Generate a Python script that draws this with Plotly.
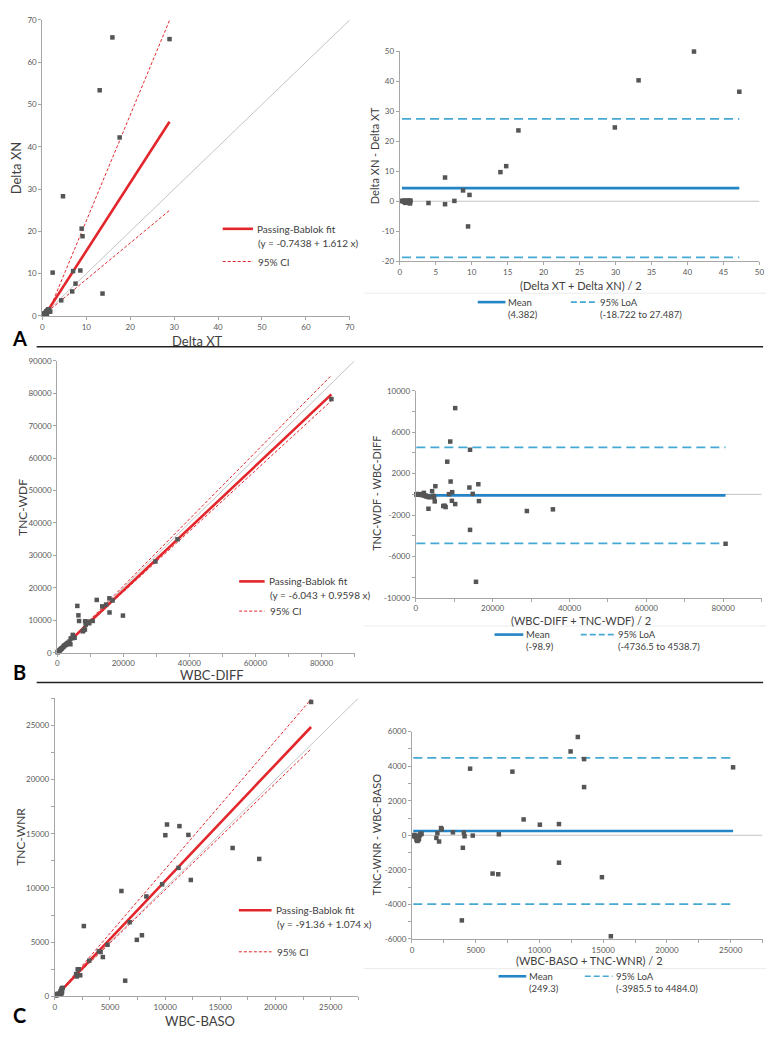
import plotly.graph_objects as go

W, H = 782, 1039
FONT = "Lato"
TXT = "#404040"
TICK = "#595959"
AX = "#a6a6a6"
RED = "#e3262b"
BLUE = "#2385c6"
LBLUE = "#45a9d3"
GRAY_ID = "#c4c4c4"
MK = "#555555"

# ================= Panel A: Delta XT vs Delta XN =================
a_delta_xt = [15.95, 13.05, 28.95, 17.6, 4.7, 8.95, 9.15, 2.35, 7.0, 8.65, 7.55, 4.3, 6.8, 13.7,
              0.3, 0.64, 0.98, 1.05, 1.46, 1.22, 1.8, 1.05, 0.32, 0.5, 0.8, 1.2, 0.7, 1.4, 0.9, 1.6]
a_delta_xn = [65.85, 53.35, 65.45, 42.2, 28.3, 20.65, 18.85, 10.25, 10.6, 10.75, 7.65, 3.7, 5.8, 5.3,
              0.52, 0.64, 0.76, 1.15, 1.02, 1.44, 1.04, 0.5, 0.32, 0.6, 0.9, 1.2, 0.5, 1.6, 1.1, 1.3]
a_fit = [-0.7438, 1.612]          # intercept, slope (Passing-Bablok)
a_ci_low = [0.01, 0.862]
a_ci_high = [-2.55, 2.502]
a_ba_mean = 4.382
a_ba_loa = [-18.722, 27.487]

# ================= Panel B: WBC-DIFF vs TNC-WDF =================
b_wbc_diff = [6090, 6417, 11965, 6621, 8451, 4707, 15791, 13631, 4097, 9375, 8621, 14796, 2038,
              16767, 9712, 10731, 5281, 3996, 7727, 8385, 8050, 4919, 4675, 29717, 36415, 15839,
              19899, 83001,
              210, 495, 820, 1100, 1430, 1715, 2050, 2475, 2900, 3325, 3740, 285, 605, 990, 1310,
              2660, 3090, 150, 415]
b_tnc_wdf = [14430, 11524, 16275, 9779, 9689, 5494, 16770, 14290, 4404, 9586, 8640, 14844, 2182,
             16114, 9088, 9790, 4599, 2604, 6594, 7156, 6950, 4621, 4525, 28104, 34965, 12402,
             11441, 78220,
             190, 505, 780, 1100, 1370, 1685, 1950, 2325, 2700, 3075, 3460, 315, 595, 1010, 1290,
             2540, 2910, 150, 385]
b_fit = [-6.043, 0.9598]
b_ci_low = [0.0, 0.936]
b_ci_high = [-120.0, 1.032]
b_ba_mean = -98.9
b_ba_loa = [-4736.5, 4538.7]

# ================= Panel C: WBC-BASO vs TNC-WNR =================
c_wbc_baso = [10165, 10014, 11294, 2629, 6035, 12105, 8298, 9724, 11206, 2161, 3125, 3990, 6784,
              4776, 4150, 1929, 1990, 2304, 4352, 12324, 7431, 7893, 16113, 6375, 18523, 23223, 2070,
              125, 190, 350, 475, 550, 525, 525, 650, 600, 625, 650, 710, 160, 290, 585, 640]
c_tnc_wnr = [15855, 14867, 15706, 6485, 9719, 14895, 9215, 10337, 11854, 2505, 3297, 4145, 6841,
             4759, 4093, 2055, 1837, 1943, 3627, 10737, 5214, 5638, 13687, 1447, 12678, 27157, 2490,
             75, 210, 250, 225, 250, 375, 475, 450, 600, 675, 750, 790, 140, 210, 255, 360]
c_fit = [-91.36, 1.074]
c_ci_low = [0.0, 0.983]
c_ci_high = [-110.0, 1.185]
c_ba_mean = 249.3
c_ba_loa = [-3985.5, 4484.0]

# ================= Ticks =================
a_sc_ticks = [0, 10, 20, 30, 40, 50, 60, 70]
a_ba_xticks = [0, 5, 10, 15, 20, 25, 30, 35, 40, 45, 50]
a_ba_yticks = [-20, -10, 0, 10, 20, 30, 40, 50]
b_sc_xticks = [0, 10000, 20000, 30000, 40000, 50000, 60000, 70000, 80000, 90000]
b_sc_xlabels = ["0", "", "20000", "", "40000", "", "60000", "", "80000", ""]
b_sc_yticks = [0, 10000, 20000, 30000, 40000, 50000, 60000, 70000, 80000, 90000]
b_ba_yticks = [-10000, -8000, -6000, -4000, -2000, 0, 2000, 4000, 6000, 8000, 10000]
b_ba_ylabels = ["-10000", "", "-6000", "", "-2000", "", "2000", "", "6000", "", "10000"]
c_ticks = [0, 2500, 5000, 7500, 10000, 12500, 15000, 17500, 20000, 22500, 25000, 27500]
c_labels = ["0", "", "5000", "", "10000", "", "15000", "", "20000", "", "25000", ""]
c_ba_yticks = [-6000, -5000, -4000, -3000, -2000, -1000, 0, 1000, 2000, 3000, 4000, 5000, 6000]
c_ba_ylabels = ["-6000", "", "-4000", "", "-2000", "", "0", "", "2000", "", "4000", "", "6000"]

fig = go.Figure()


def ax_ids(n):
    return ("x" if n == 1 else f"x{n}"), ("y" if n == 1 else f"y{n}")


def add_scatter_panel(n, xs, ys, fit, ci_lo, ci_hi, amax):
    xa, ya = ax_ids(n)
    x0, x1 = min(xs), max(xs)
    fig.add_trace(go.Scatter(x=[0, amax], y=[0, amax], mode="lines", xaxis=xa, yaxis=ya,
                             line=dict(color=GRAY_ID, width=1), hoverinfo="skip"))
    for a, b in (ci_lo, ci_hi):
        fig.add_trace(go.Scatter(x=[x0, x1], y=[a + b * x0, a + b * x1], mode="lines",
                                 xaxis=xa, yaxis=ya,
                                 line=dict(color=RED, width=1, dash="3px,2px")))
    fig.add_trace(go.Scatter(x=[x0, x1], y=[fit[0] + fit[1] * x0, fit[0] + fit[1] * x1],
                             mode="lines", xaxis=xa, yaxis=ya, line=dict(color=RED, width=2.6)))
    fig.add_trace(go.Scatter(x=xs, y=ys, mode="markers", xaxis=xa, yaxis=ya, cliponaxis=False,
                             marker=dict(symbol="square", size=4.5, color=MK)))


def add_ba_panel(n, xs, ys, mean, loa, amax):
    xa, ya = ax_ids(n)
    m = [(a + b) / 2 for a, b in zip(xs, ys)]
    d = [b - a for a, b in zip(xs, ys)]
    m0, m1 = min(m), max(m)
    fig.add_trace(go.Scatter(x=[0, amax], y=[0, 0], mode="lines", xaxis=xa, yaxis=ya,
                             line=dict(color=GRAY_ID, width=1)))
    for v in loa:
        fig.add_trace(go.Scatter(x=[m0, m1], y=[v, v], mode="lines", xaxis=xa, yaxis=ya,
                                 line=dict(color=LBLUE, width=1.8, dash="9px,5px")))
    fig.add_trace(go.Scatter(x=[m0, m1], y=[mean, mean], mode="lines", xaxis=xa, yaxis=ya,
                             line=dict(color=BLUE, width=2.6)))
    fig.add_trace(go.Scatter(x=m, y=d, mode="markers", xaxis=xa, yaxis=ya, cliponaxis=False,
                             marker=dict(symbol="square", size=4.5, color=MK)))


add_scatter_panel(1, a_delta_xt, a_delta_xn, a_fit, a_ci_low, a_ci_high, 70)
add_ba_panel(2, a_delta_xt, a_delta_xn, a_ba_mean, a_ba_loa, 50)
add_scatter_panel(3, b_wbc_diff, b_tnc_wdf, b_fit, b_ci_low, b_ci_high, 90000)
add_ba_panel(4, b_wbc_diff, b_tnc_wdf, b_ba_mean, b_ba_loa, 90000)
add_scatter_panel(5, c_wbc_baso, c_tnc_wnr, c_fit, c_ci_low, c_ci_high, 27500)
add_ba_panel(6, c_wbc_baso, c_tnc_wnr, c_ba_mean, c_ba_loa, 27500)


def axis(dom, rng, tv, tt, anchor, horiz):
    if horiz:
        d = [dom[0] / W, dom[1] / W]
    else:
        d = [1 - dom[1] / H, 1 - dom[0] / H]
    return dict(domain=d, range=rng, tickmode="array", tickvals=tv,
                ticktext=tt if tt is not None else [str(v) for v in tv],
                ticks="outside", ticklen=3, tickwidth=1, tickcolor=AX,
                showline=True, linecolor=AX, linewidth=1, showgrid=False, zeroline=False,
                tickfont=dict(family=FONT, size=8, color=TICK), anchor=anchor, fixedrange=True)


# panel geometry (pixels): (x0, x1), (y_top, y_bottom)
geo = {
    1: ((40.7, 351.0), (15.0, 314.0)),
    2: ((401.3, 764.3), (46.7, 258.7)),
    3: ((55.7, 355.7), (359.3, 654.0)),
    4: ((417.5, 766.5), (389.7, 598.5)),
    5: ((53.3, 359.5), (700.0, 1001.0)),
    6: ((413.7, 767.4), (733.7, 943.0)),
}
spec = {
    1: ([0, 70], a_sc_ticks, None, [0, 70], a_sc_ticks, None),
    2: ([0, 50], a_ba_xticks, None, [-20, 50], a_ba_yticks, None),
    3: ([0, 90000], b_sc_xticks, b_sc_xlabels, [0, 90000], b_sc_yticks, None),
    4: ([0, 90000], b_sc_xticks, b_sc_xlabels, [-10000, 10000], b_ba_yticks, b_ba_ylabels),
    5: ([0, 27500], c_ticks, c_labels, [0, 27500], c_ticks, c_labels),
    6: ([0, 27500], c_ticks, c_labels, [-6000, 6000], c_ba_yticks, c_ba_ylabels),
}
lay = {}
for n in range(1, 7):
    xa, ya = ax_ids(n)
    xr, xtv, xtt, yr, ytv, ytt = spec[n]
    (gx, gy) = geo[n]
    lay["xaxis" if n == 1 else f"xaxis{n}"] = axis(gx, xr, xtv, xtt, ya, True)
    lay["yaxis" if n == 1 else f"yaxis{n}"] = axis(gy, yr, ytv, ytt, xa, False)

fig.update_layout(**lay)

ann = []
shapes = []


def text(t, x, y, size, color=TXT, xanchor="center", angle=0, bold=False):
    ann.append(dict(text=("<b>%s</b>" % t) if bold else t, x=x / W, y=1 - y / H,
                    xref="paper", yref="paper", showarrow=False, xanchor=xanchor,
                    yanchor="middle", textangle=angle,
                    font=dict(family=FONT, size=size, color=color)))


def hline(x0, x1, y, color, width, dash="solid"):
    shapes.append(dict(type="line", xref="paper", yref="paper", x0=x0 / W, x1=x1 / W,
                       y0=1 - y / H, y1=1 - y / H, line=dict(color=color, width=width, dash=dash)))


# axis titles
text("Delta XN", 15, 164, 13, angle=-90)
text("Delta XT", 197, 339, 13)
text("Delta XN - Delta XT", 376, 152, 11, angle=-90)
text("(Delta XT + Delta XN) / 2", 584, 283, 11)
text("TNC-WDF", 20, 507, 12, angle=-90)
text("WBC-DIFF", 212, 677, 13)
text("TNC-WDF - WBC-DIFF", 378, 493, 11, angle=-90)
text("(WBC-DIFF + TNC-WDF) / 2", 584, 621, 11)
text("TNC-WNR", 19, 840, 12, angle=-90)
text("WBC-BASO", 200, 1026, 13)
text("TNC-WNR - WBC-BASO", 378, 838, 11, angle=-90)
text("(WBC-BASO + TNC-WNR) / 2", 593, 965, 11)

# panel letters
text("A", 18, 336, 20, color="#000000", bold=True)
text("B", 18, 673, 20, color="#000000", bold=True)
text("C", 18, 1020, 20, color="#000000", bold=True)

# row separators
hline(35, 768, 345, "#222222", 1.5)
hline(35, 768, 684, "#222222", 1.5)
# faint BA chart-area separators
hline(365, 771, 291, "#ebebeb", 1)
hline(365, 771, 627, "#ebebeb", 1)
hline(365, 771, 973, "#ebebeb", 1)

# scatter legends: (sample x0, x1, fit y, equation y, CI y, equation)
for (lx0, lx1, ly, ey, cy, eq) in [(222.7, 253.3, 226, 240, 259, "(y = -0.7438 + 1.612 x)"),
                                   (239.3, 265.0, 582, 596, 612, "(y = -6.043 + 0.9598 x)"),
                                   (239.0, 272.0, 914, 928, 956, "(y = -91.36 + 1.074 x)")]:
    hline(lx0, lx1, ly, RED, 2.6)
    text("Passing-Bablok fit", lx1 + 2, ly, 10, xanchor="left")
    text(eq, lx1 + 3, ey, 10, xanchor="left")
    hline(lx0, lx1, cy, RED, 1, "3px,2px")
    text("95% CI", lx1 + 3, cy, 10, xanchor="left")

# Bland-Altman legends
for (mx0, mx1, dx0, dx1, ly, mtxt, ltxt) in [
        (480, 508, 574, 599, 300, "(4.382)", "(-18.722 to 27.487)"),
        (497, 526, 584, 618, 635.7, "(-98.9)", "(-4736.5 to 4538.7)"),
        (501, 529, 588, 616, 980.7, "(249.3)", "(-3985.5 to 4484.0)")]:
    hline(mx0, mx1, ly, BLUE, 2.6)
    text("Mean", mx1 + 1, ly, 9.5, xanchor="left")
    text(mtxt, mx1 + 1, ly + 12.5, 9.5, xanchor="left")
    hline(dx0, dx1, ly, LBLUE, 1.6, "6px,3px")
    text("95% LoA", dx1 + 2, ly, 9.5, xanchor="left")
    text(ltxt, dx1 + 2, ly + 12.5, 9.5, xanchor="left")

fig.update_layout(width=W, height=H, margin=dict(l=0, r=0, t=0, b=0),
                  paper_bgcolor="white", plot_bgcolor="white", showlegend=False,
                  annotations=ann, shapes=shapes, font=dict(family=FONT))

fig.write_html("out.html")
